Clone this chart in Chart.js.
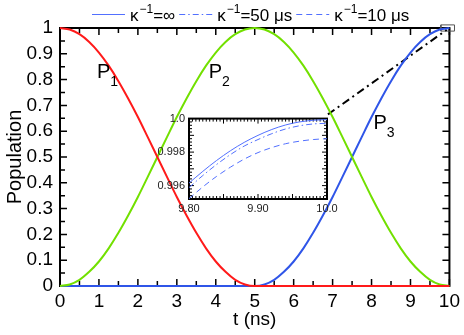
<!DOCTYPE html>
<html><head><meta charset="utf-8">
<script src="https://cdn.jsdelivr.net/npm/chart.js@4.4.1/dist/chart.umd.min.js"></script>
<style>
html,body{margin:0;padding:0;background:#fff;}
#wrap{position:relative;width:464px;height:335px;overflow:hidden;}
#main{position:absolute;left:0;top:0;}
#inset{position:absolute;left:130px;top:108px;}
</style></head><body>
<div id="wrap">
<canvas id="main" width="464" height="335"></canvas>
<canvas id="inset" width="220" height="112"></canvas>
</div>
<script>
// ---- data ----
const timeNs = [0,0.25,0.5,0.75,1,1.25,1.5,1.75,2,2.25,2.5,2.75,3,3.25,3.5,3.75,4,4.25,4.5,4.75,5,
  5.25,5.5,5.75,6,6.25,6.5,6.75,7,7.25,7.5,7.75,8,8.25,8.5,8.75,9,9.25,9.5,9.75,10];
const popP1 = [1,0.994,0.976,0.946,0.905,0.854,0.794,0.727,0.655,0.578,0.5,0.422,0.345,0.273,0.206,0.146,0.095,0.055,0.024,0.006,0,
  0,0,0,0,0,0,0,0,0,0,0,0,0,0,0,0,0,0,0,0];
const popP2 = [0,0.006,0.024,0.055,0.095,0.146,0.206,0.273,0.345,0.422,0.5,0.578,0.655,0.727,0.794,0.854,0.905,0.946,0.976,0.994,1,
  0.994,0.976,0.946,0.905,0.854,0.794,0.727,0.655,0.578,0.5,0.422,0.345,0.273,0.206,0.146,0.095,0.055,0.024,0.006,0];
const popP3 = [0,0,0,0,0,0,0,0,0,0,0,0,0,0,0,0,0,0,0,0,0,
  0.006,0.024,0.055,0.095,0.146,0.206,0.273,0.345,0.422,0.5,0.578,0.655,0.727,0.794,0.854,0.905,0.946,0.976,0.994,1];

const insetTime = [9.80,9.82,9.84,9.86,9.88,9.90,9.92,9.94,9.96,9.98,10.0];
const insetKappaInf = [0.99615,0.99685,0.99750,0.99808,0.99858,0.99900,0.99935,0.99962,0.99980,0.99990,0.99994];
const insetKappa50 = [0.99588,0.99660,0.99726,0.99785,0.99836,0.99875,0.99910,0.99938,0.99957,0.99968,0.99972];
const insetKappa10 = [0.99522,0.99592,0.99655,0.99710,0.99758,0.99797,0.99827,0.99850,0.99865,0.99875,0.99880];

const yTickValues = [0,0.1,0.2,0.3,0.4,0.5,0.6,0.7,0.8,0.9,1];
const yTickLabels = ["0","0.1","0.2","0.3","0.4","0.5","0.6","0.7","0.8","0.9","1"];
const xTickValues = [0,1,2,3,4,5,6,7,8,9,10];
const xTickLabels = ["0","1","2","3","4","5","6","7","8","9","10"];
const insetXTickValues = [9.80,9.90,10.0];
const insetXTickLabels = ["9.80","9.90","10.0"];
const insetYTickValues = [0.996,0.998,1.0];
const insetYTickLabels = ["0.996","0.998","1.0"];

const seriesNames = ["P1","P2","P3"];
const legendValues = ["∞","50 μs","10 μs"];

// zoom marker (data coords of the main axes)
const zoomLinkX = [6.88, 9.93];
const zoomLinkY = [0.665, 0.993];
const zoomBoxX = [9.78, 10.13, 10.13, 9.78, 9.78];
const zoomBoxY = [0.988, 0.988, 1.012, 1.012, 0.988];

// ---- styles ----
const FONT = "'Liberation Sans', Arial, sans-serif";
const colRed = "#ff1a1a", colGreen = "#72e000", colBlue = "#2f55e8", colInset = "#5270ff";
const insetDashes = [[], [6,3,1.5,3], [6,4]];

function pts(xs, ys){ return xs.map((x,i)=>({x:x, y:ys[i]})); }

function frameTicks(id, c){
  return {
    id,
    beforeDraw(chart){
      if(!c.fillBg) return;
      const a = chart.chartArea, ctx = chart.ctx;
      ctx.save(); ctx.fillStyle = '#fff';
      ctx.fillRect(a.left, a.top, a.right-a.left, a.bottom-a.top); ctx.restore();
    },
    beforeDatasetsDraw(chart){
      const {ctx, chartArea:a} = chart; const x = chart.scales.x, y = chart.scales.y;
      ctx.save();
      ctx.strokeStyle = '#000'; ctx.lineWidth = c.tickW; ctx.beginPath();
      const k0 = Math.ceil(x.min/c.minorX - 1e-6), k1 = Math.floor(x.max/c.minorX + 1e-6);
      for(let k=k0;k<=k1;k++){
        const v = k*c.minorX, r = v/c.majorX, major = Math.abs(r-Math.round(r))<1e-4;
        const L = major ? c.majL : c.minL, p = x.getPixelForValue(v);
        ctx.moveTo(p, a.bottom); ctx.lineTo(p, a.bottom-L);
        ctx.moveTo(p, a.top); ctx.lineTo(p, a.top+L);
      }
      const j0 = Math.ceil(y.min/c.minorY - 1e-6), j1 = Math.floor(y.max/c.minorY + 1e-6);
      for(let k=j0;k<=j1;k++){
        const v = k*c.minorY, r = v/c.majorY, major = Math.abs(r-Math.round(r))<1e-4;
        const L = major ? c.majL : c.minL, p = y.getPixelForValue(v);
        ctx.moveTo(a.left, p); ctx.lineTo(a.left+L, p);
        ctx.moveTo(a.right, p); ctx.lineTo(a.right-L, p);
      }
      ctx.stroke();
      ctx.lineWidth = c.frameW;
      ctx.strokeRect(a.left, a.top, a.right-a.left, a.bottom-a.top);
      ctx.restore();
    }
  };
}

// curve labels & legend
const curveLabelPos = {P1:[0.95,0.806], P2:[3.82,0.806], P3:[8.05,0.607]};
const annotPlugin = {
  id:'annot',
  afterDraw(chart){
    const ctx = chart.ctx, x = chart.scales.x, y = chart.scales.y;
    ctx.save(); ctx.fillStyle = '#000'; ctx.textBaseline = 'alphabetic'; ctx.textAlign = 'left';
    seriesNames.forEach(n=>{
      const [dx,dy] = curveLabelPos[n];
      const px = x.getPixelForValue(dx), py = y.getPixelForValue(dy);
      ctx.font = "20px " + FONT; ctx.fillText(n[0], px, py);
      const w = ctx.measureText(n[0]).width;
      ctx.font = "14px " + FONT; ctx.fillText(n.slice(1), px + w, py + 8);
    });
    // legend
    let lx = 92; const ly = 14, base = 21;
    legendValues.forEach((val,i)=>{
      ctx.strokeStyle = colInset; ctx.lineWidth = 1; ctx.setLineDash(insetDashes[i]);
      ctx.beginPath(); ctx.moveTo(lx, ly+0.5); ctx.lineTo(lx+33, ly+0.5); ctx.stroke();
      ctx.setLineDash([]);
      lx += 38;
      ctx.font = "17px " + FONT; ctx.fillText("κ", lx, base);
      lx += ctx.measureText("κ").width + 1;
      ctx.font = "12px " + FONT; ctx.fillText("−1", lx, base - 8);
      lx += ctx.measureText("−1").width;
      ctx.font = "17px " + FONT; const t = "=" + val; ctx.fillText(t, lx, base);
      lx += ctx.measureText(t).width + 4;
    });
    ctx.restore();
  }
};

const tickFont = {family: FONT, size: 19};
new Chart(document.getElementById('main'), {
  type: 'line',
  data: {
    datasets: [
      {data: pts(timeNs, popP1), borderColor: colRed, borderWidth: 2},
      {data: pts(timeNs, popP2), borderColor: colGreen, borderWidth: 2},
      {data: pts(timeNs, popP3), borderColor: colBlue, borderWidth: 2},
      {data: pts(zoomLinkX, zoomLinkY), borderColor: '#000', borderWidth: 2, borderDash: [8,4,2,4], tension: 0, cubicInterpolationMode: 'default'},
      {data: pts(zoomBoxX, zoomBoxY), borderColor: '#555', borderWidth: 1, tension: 0, cubicInterpolationMode: 'default'}
    ]
  },
  options: {
    responsive: false, animation: false, devicePixelRatio: 1,
    layout: {padding: {left: 0, right: 14, top: 28, bottom: 0}},
    elements: {point: {radius: 0}, line: {cubicInterpolationMode: 'monotone', fill: false}},
    datasets: {line: {clip: false}},
    plugins: {legend: {display: false}, tooltip: {enabled: false}},
    scales: {
      x: {type: 'linear', min: 0, max: 10,
        afterBuildTicks: s => { s.ticks = xTickValues.map(v=>({value:v})); },
        afterFit: s => { s.height = 49; },
        ticks: {font: tickFont, color: '#000', padding: 4, maxRotation: 0, autoSkip: false,
          callback: (v,i) => xTickLabels[i]},
        grid: {display: false, drawTicks: false}, border: {display: false},
        title: {display: true, text: 't (ns)', color: '#000', font: {family: FONT, size: 19}, padding: {top: 0, bottom: 4}}
      },
      y: {type: 'linear', min: 0, max: 1,
        afterBuildTicks: s => { s.ticks = yTickValues.map(v=>({value:v})); },
        afterFit: s => { s.width = 60; },
        ticks: {font: tickFont, color: '#000', padding: 7, autoSkip: false,
          callback: (v,i) => yTickLabels[i]},
        grid: {display: false, drawTicks: false}, border: {display: false},
        title: {display: true, text: 'Population', color: '#000', font: {family: FONT, size: 20}, padding: {top: 3, bottom: 0}}
      }
    }
  },
  plugins: [frameTicks('mainFrame', {minorX: 0.5, majorX: 1, minorY: 0.05, majorY: 0.1, majL: 7, minL: 5, tickW: 1.5, frameW: 2, fillBg: false}), annotPlugin]
});

const insetFont = {family: FONT, size: 11};
new Chart(document.getElementById('inset'), {
  type: 'line',
  data: {
    datasets: [
      {data: pts(insetTime, insetKappaInf), borderColor: colInset, borderWidth: 1, borderDash: insetDashes[0]},
      {data: pts(insetTime, insetKappa50), borderColor: colInset, borderWidth: 1, borderDash: insetDashes[1]},
      {data: pts(insetTime, insetKappa10), borderColor: colInset, borderWidth: 1, borderDash: insetDashes[2]}
    ]
  },
  options: {
    responsive: false, animation: false, devicePixelRatio: 1,
    layout: {padding: {left: 0, right: 23, top: 9, bottom: 0}},
    elements: {point: {radius: 0}, line: {cubicInterpolationMode: 'monotone', fill: false}},
    plugins: {legend: {display: false}, tooltip: {enabled: false}},
    scales: {
      x: {type: 'linear', min: 9.8, max: 10.0,
        afterBuildTicks: s => { s.ticks = insetXTickValues.map(v=>({value:v})); },
        afterFit: s => { s.height = 21; },
        ticks: {font: insetFont, color: '#222', padding: 3, maxRotation: 0, autoSkip: false,
          callback: (v,i) => insetXTickLabels[i]},
        grid: {display: false, drawTicks: false}, border: {display: false}
      },
      y: {type: 'linear', min: 0.9952, max: 1.0,
        afterBuildTicks: s => { s.ticks = insetYTickValues.map(v=>({value:v})); },
        afterFit: s => { s.width = 59; },
        ticks: {font: insetFont, color: '#222', padding: 4, autoSkip: false,
          callback: (v,i) => insetYTickLabels[i]},
        grid: {display: false, drawTicks: false}, border: {display: false}
      }
    }
  },
  plugins: [frameTicks('insetFrame', {minorX: 0.005, majorX: 0.05, minorY: 0.0002, majorY: 0.001, majL: 5, minL: 3, tickW: 1, frameW: 2, fillBg: true})]
});
</script>
</body></html>
